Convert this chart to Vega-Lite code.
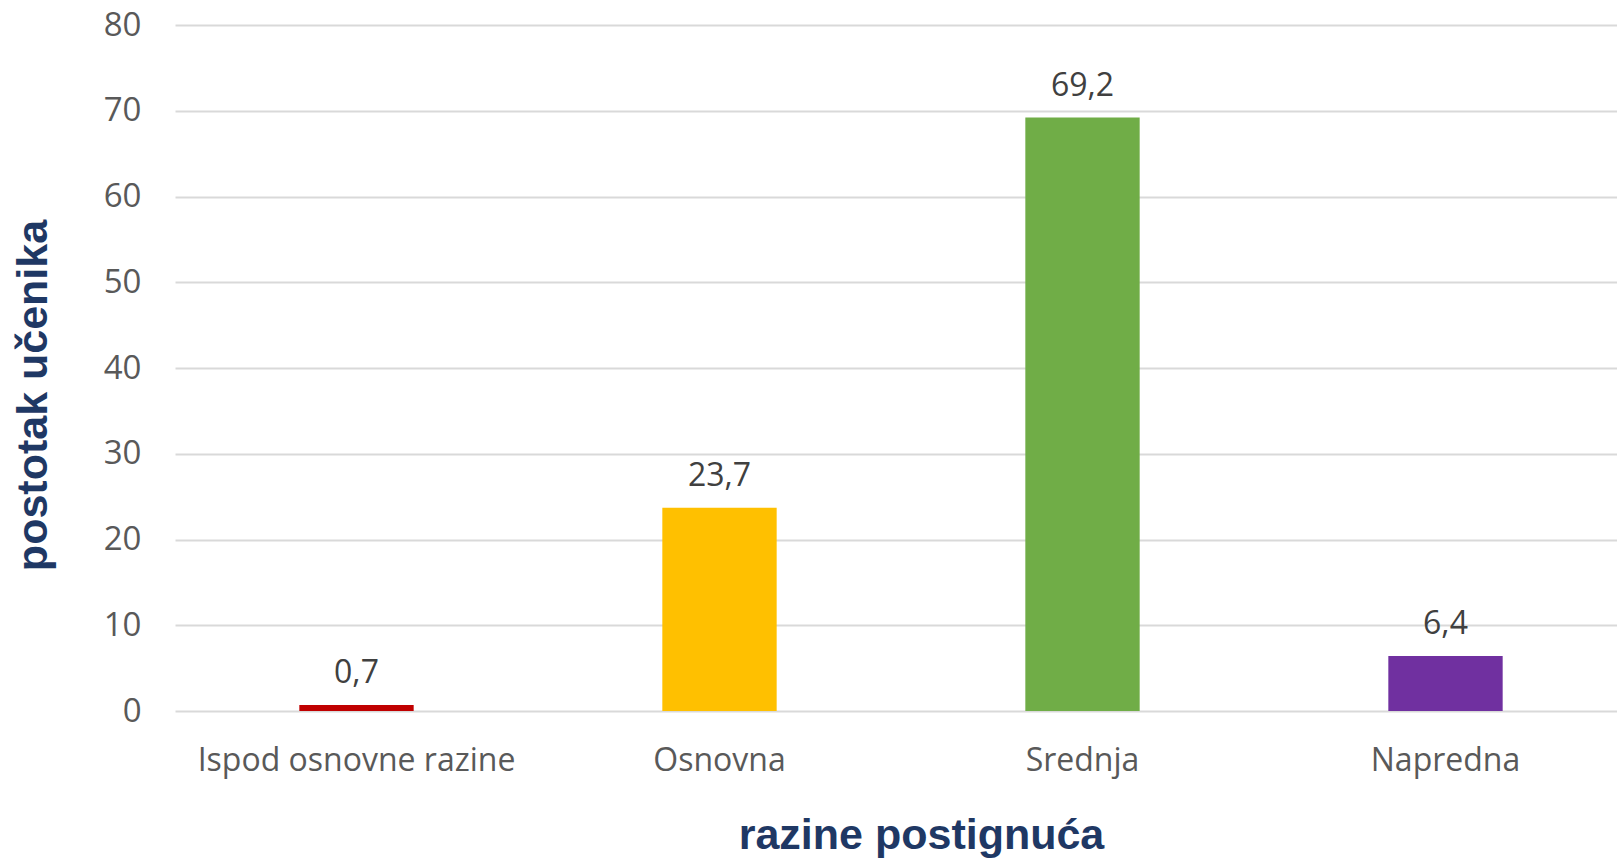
{
  "$schema": "https://vega.github.io/schema/vega-lite/v6.json",
  "autosize": {"type": "none"},
  "padding": {"left": 175, "top": 25, "right": 0, "bottom": 147},
  "width": 1452,
  "height": 686,
  "background": "white",
  "config": {
    "view": {"stroke": null},
    "locale": {"number": {"decimal": ",", "thousands": ".", "grouping": [3], "currency": ["", " €"]}}
  },
  "data": {
    "values": [
      {"razina": "Ispod osnovne razine", "postotak": 0.7, "boja": "#C00000"},
      {"razina": "Osnovna", "postotak": 23.7, "boja": "#FFC000"},
      {"razina": "Srednja", "postotak": 69.2, "boja": "#70AD47"},
      {"razina": "Napredna", "postotak": 6.4, "boja": "#7030A0"}
    ]
  },
  "encoding": {
    "x": {
      "field": "razina",
      "type": "nominal",
      "sort": null,
      "scale": {"paddingInner": 0.685, "paddingOuter": 0.3425},
      "axis": {
        "title": "razine postignuća",
        "titleFont": "Liberation Sans",
        "titleFontWeight": "bold",
        "titleFontSize": 43,
        "titleColor": "#1F3864",
        "titlePadding": 38,
        "titleX": 746,
        "labelAngle": 0,
        "labelFont": "Open Sans",
        "labelFontSize": 32,
        "labelColor": "#595959",
        "labelPadding": 34,
        "labelLimit": 0,
        "domain": false,
        "ticks": false
      }
    },
    "y": {
      "field": "postotak",
      "type": "quantitative",
      "scale": {"domain": [0, 80]},
      "axis": {
        "title": "postotak učenika",
        "titleFont": "Liberation Sans",
        "titleFontWeight": "bold",
        "titleFontSize": 43,
        "titleColor": "#1F3864",
        "titlePadding": 48,
        "titleY": 370,
        "values": [0, 10, 20, 30, 40, 50, 60, 70, 80],
        "labelFont": "Open Sans",
        "labelFontSize": 33,
        "labelColor": "#595959",
        "labelPadding": 34,
        "domain": false,
        "ticks": false,
        "gridColor": "#D9D9D9",
        "gridWidth": 2
      }
    }
  },
  "layer": [
    {
      "mark": {"type": "bar"},
      "encoding": {"color": {"field": "boja", "type": "nominal", "scale": null}}
    },
    {
      "mark": {"type": "text", "font": "Open Sans", "fontSize": 32, "color": "#404040", "baseline": "alphabetic", "dy": -22},
      "encoding": {"text": {"field": "postotak", "type": "quantitative", "format": ".1f"}}
    }
  ]
}
